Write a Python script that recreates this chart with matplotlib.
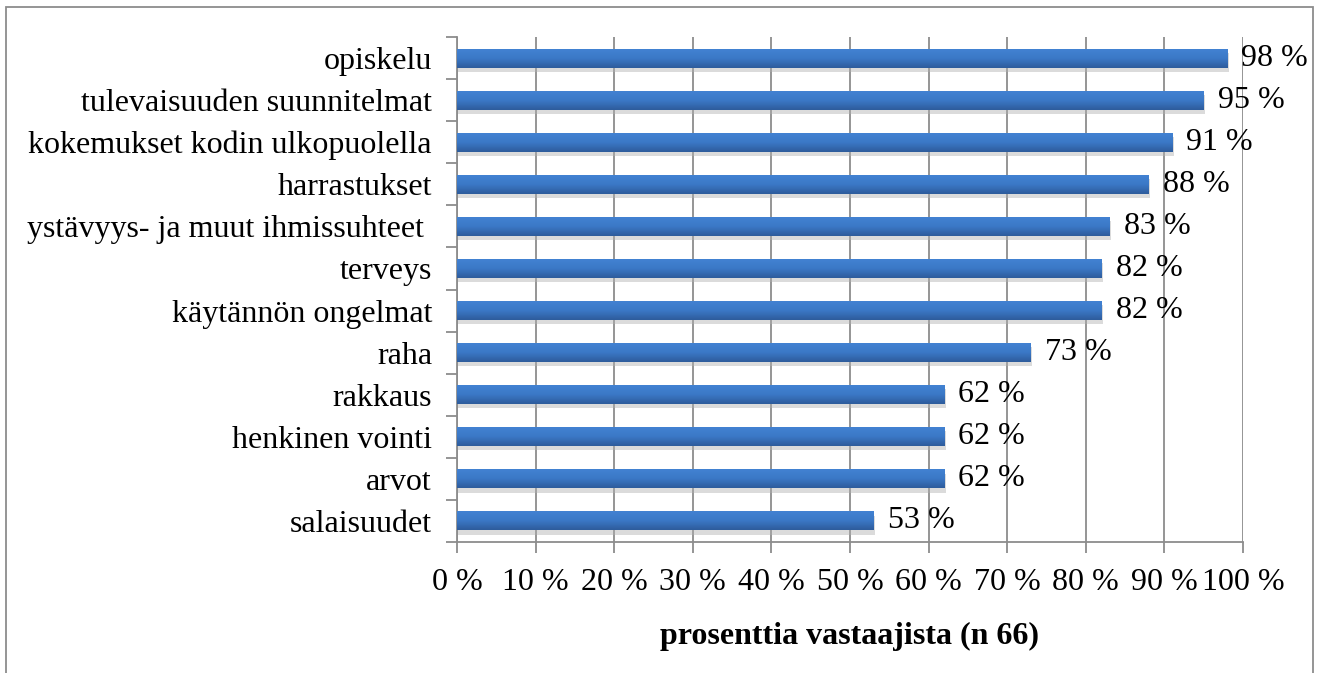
#!/usr/bin/env python3

import numpy as np
import matplotlib.pyplot as plt
import matplotlib.patheffects as pe
from matplotlib.patches import Rectangle
from matplotlib.ticker import FixedLocator
from matplotlib.colors import LinearSegmentedColormap

# aiheet ja osuudet (%)
aiheet = [
    "opiskelu",
    "tulevaisuuden suunnitelmat",
    "kokemukset kodin ulkopuolella",
    "harrastukset",
    "ystävyys- ja muut ihmissuhteet ",
    "terveys",
    "käytännön ongelmat",
    "raha",
    "rakkaus",
    "henkinen vointi",
    "arvot",
    "salaisuudet",
]
osuudet = [98, 95, 91, 88, 83, 82, 82, 73, 62, 62, 62, 53]
x_ticks = list(range(0, 101, 10))
x_tick_labels = [f"{t} %" for t in x_ticks]

plt.rcParams['font.family'] = ['Liberation Serif', 'DejaVu Serif']
fs = 23
grid_c = "#8c8c8c"

fig = plt.figure(figsize=(13.19, 6.73), dpi=100)
ax = fig.add_axes([457/1319, 1-542/673, (1243-457)/1319, (542-37)/673])

y = np.arange(len(aiheet))
bars = ax.barh(y, osuudet, height=0.45, color="#3770bb", zorder=3)
for b in bars:
    b.set_path_effects([pe.SimplePatchShadow(offset=(1, -3), shadow_rgbFace="#b0b0b0", alpha=0.45),
                        pe.Normal()])

# liukuväri palkkeihin (ylhäältä vaalea, alhaalta tumma)
cmap = LinearSegmentedColormap.from_list("bar", ["#4282d2", "#3b78c6", "#2e5c9c"])
grad = np.linspace(0, 1, 64).reshape(-1, 1)
for b in bars:
    x0, y0 = b.get_x(), b.get_y()
    w, h = b.get_width(), b.get_height()
    im = ax.imshow(grad, cmap=cmap, aspect="auto", extent=(x0, x0 + w, y0 + h, y0),
                   origin="upper", zorder=3.5, interpolation="bilinear")
    im.set_clip_path(b)

for yi, v in zip(y, osuudet):
    ax.text(v + 1.8, yi, f"{v} %", va="center", ha="left", fontsize=fs, zorder=4)

ax.set_xlim(0, 100)
ax.set_ylim(len(aiheet) - 0.5, -0.5)

ax.set_xticks(x_ticks)
ax.set_xticklabels(x_tick_labels, fontsize=fs)
ax.set_yticks(y)
ax.set_yticklabels(aiheet, fontsize=fs)
ax.yaxis.set_minor_locator(FixedLocator(np.arange(-0.5, len(aiheet), 1)))
ax.tick_params(axis="y", which="major", length=0, pad=18)
ax.tick_params(axis="y", which="minor", length=8, width=1.3, color=grid_c)
ax.tick_params(axis="x", length=8, width=1.3, color=grid_c, pad=11)

ax.grid(axis="x", color=grid_c, linewidth=1.3, zorder=0)
ax.set_axisbelow(True)
for s in ["top", "right"]:
    ax.spines[s].set_visible(False)
for s in ["left", "bottom"]:
    ax.spines[s].set_color(grid_c)
    ax.spines[s].set_linewidth(1.3)

ax.set_xlabel("prosenttia vastaajista (n 66)", fontsize=fs, fontweight="bold", labelpad=18)

# kaavion kehys
fig.patches.append(Rectangle((6/1319, -0.05), (1313-6)/1319, 1-7/673+0.05,
                             transform=fig.transFigure, fill=False,
                             edgecolor="#8c8c8c", linewidth=1.3))

fig.savefig("out.png", dpi=100)
